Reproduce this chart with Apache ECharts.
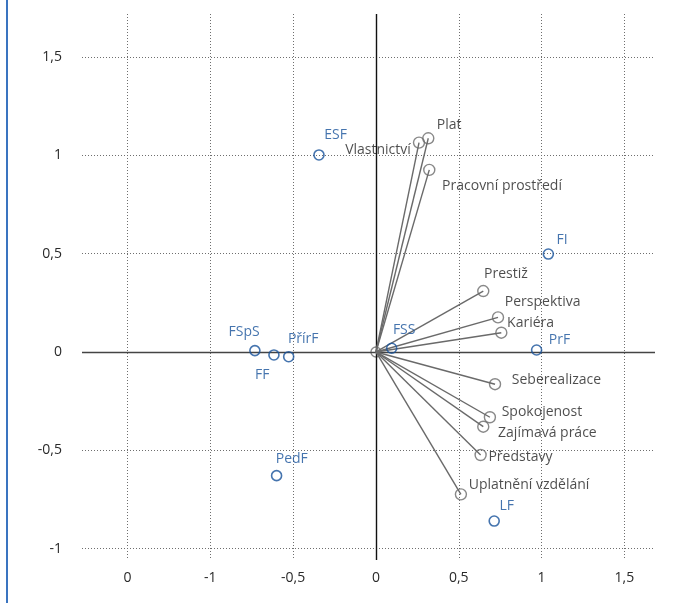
<!DOCTYPE html>
<html>
<head>
<meta charset="utf-8">
<script src="https://cdn.jsdelivr.net/npm/echarts@6/dist/echarts.min.js"></script>
<style>html,body{margin:0;padding:0;background:#fff;}#chart{width:682px;height:603px;}</style>
</head>
<body>
<div id="chart"></div>
<script>
// ---- data ----
const vectorNames = ['Plat','Vlastnictví','Pracovní prostředí','Prestiž','Perspektiva','Kariéra','Seberealizace','Spokojenost','Zajímavá práce','Představy','Uplatnění vzdělání'];
const vectorX = [0.316, 0.260, 0.322, 0.648, 0.737, 0.757, 0.719, 0.688, 0.648, 0.632, 0.513];
const vectorY = [1.087, 1.065, 0.926, 0.310, 0.176, 0.098, -0.164, -0.332, -0.380, -0.524, -0.724];

const facultyNames = ['ESF','FI','FSpS','FF','PřírF','PedF','FSS','PrF','LF'];
const facultyX = [-0.344, 1.041, -0.731, -0.616, -0.527, -0.600, 0.095, 0.970, 0.714];
const facultyY = [1.002, 0.498, 0.007, -0.015, -0.024, -0.629, 0.019, 0.010, -0.860];

const xTickValues = [-1.5, -1, -0.5, 0, 0.5, 1, 1.5];
const xTickLabels = ['0', '-1', '-0,5', '0', '0,5', '1', '1,5'];
const yTickValues = [-1, -0.5, 0, 0.5, 1, 1.5];
const yTickLabels = ['-1', '-0,5', '0', '0,5', '1', '1,5'];

// ---- label placement (style): [dx, dy] from marker centre, text align ----
const vectorLabelOffsets = {
  'Plat': [[22, -12], 'center'],
  'Vlastnictví': [[-7, 9], 'right'],
  'Pracovní prostředí': [[14, 17], 'left'],
  'Prestiž': [[2, -16], 'left'],
  'Perspektiva': [[8, -14], 'left'],
  'Kariéra': [[7, -8], 'left'],
  'Seberealizace': [[18, -3], 'left'],
  'Spokojenost': [[13, -4], 'left'],
  'Zajímavá práce': [[16, 8], 'left'],
  'Představy': [[9, 3], 'left'],
  'Uplatnění vzdělání': [[9, -8], 'left']
};
const facultyLabelOffsets = {
  'ESF': [[6, -19], 'left'],
  'FI': [[9, -13], 'left'],
  'FSpS': [[-10, -18], 'center'],
  'FF': [[-11, 21], 'center'],
  'PřírF': [[0, -17], 'left'],
  'PedF': [[16, -16], 'center'],
  'FSS': [[2, -17], 'left'],
  'PrF': [[13, -9], 'left'],
  'LF': [[6, -14], 'left']
};

const FONT = '"Open Sans", "Noto Sans", sans-serif';
const BLUE = '#17519a';
const GRAY = '#6a6a6a';
const SYM = 10;

function labelFor(o) {
  return { position: [SYM / 2 + o[0][0], SYM / 2 + o[0][1]], align: o[1], verticalAlign: 'middle' };
}
const vectorData = vectorNames.map((n, i) => ({ name: n, value: [vectorX[i], vectorY[i]], label: labelFor(vectorLabelOffsets[n]) }));
const facultyData = facultyNames.map((n, i) => ({ name: n, value: [facultyX[i], facultyY[i]], label: labelFor(facultyLabelOffsets[n]) }));

const chart = echarts.init(document.getElementById('chart'), null, { renderer: 'canvas' });
chart.setOption({
  animation: false,
  backgroundColor: '#fff',
  graphic: [{
    type: 'rect', shape: { x: 6, y: 0, width: 2, height: 603 },
    style: { fill: '#3a74c0' }, silent: true
  }],
  grid: { left: 82, right: 27, top: 14, bottom: 43, containLabel: false },
  xAxis: {
    type: 'value', min: -1.775, max: 1.685,
    axisLine: { show: false },
    axisTick: { show: false, customValues: xTickValues },
    axisLabel: {
      customValues: xTickValues, margin: 11,
      color: '#2a2a2a', fontSize: 14, fontFamily: FONT,
      formatter: v => { const i = xTickValues.findIndex(t => Math.abs(t - v) < 1e-6); return i >= 0 ? xTickLabels[i] : ''; }
    },
    splitLine: { show: true, lineStyle: { type: [1, 2], color: '#6e6e6e', width: 1 } }
  },
  yAxis: {
    type: 'value', min: -1.058, max: 1.719,
    axisLine: { show: false },
    axisTick: { show: false, customValues: yTickValues },
    axisLabel: {
      customValues: yTickValues, margin: 20, padding: [2, 0, 0, 0],
      color: '#2a2a2a', fontSize: 14, fontFamily: FONT,
      formatter: v => { const i = yTickValues.findIndex(t => Math.abs(t - v) < 1e-6); return i >= 0 ? yTickLabels[i] : ''; }
    },
    splitLine: { show: true, lineStyle: { type: [1, 2], color: '#6e6e6e', width: 1 } }
  },
  series: [
    {
      type: 'scatter', name: 'axes', data: [], silent: true,
      markLine: {
        silent: true, symbol: 'none', label: { show: false },
        data: [
          { xAxis: 0, lineStyle: { color: '#111', width: 1.4, type: 'solid' } },
          { yAxis: 0, lineStyle: { color: '#444', width: 1.4, type: 'solid' } }
        ]
      }
    },
    {
      type: 'scatter', name: 'vectors', silent: true,
      data: [[0, 0]],
      symbol: 'circle', symbolSize: SYM,
      itemStyle: { color: '#fff', borderColor: GRAY, borderWidth: 1.3 },
      markLine: {
        silent: true, symbol: 'none', label: { show: false },
        lineStyle: { color: GRAY, width: 1.4, type: 'solid' },
        data: vectorNames.map((n, i) => [{ coord: [0, 0] }, { coord: [vectorX[i], vectorY[i]] }])
      },
      z: 3
    },
    {
      type: 'scatter', name: 'vectorEnds', silent: true,
      data: vectorData,
      symbol: 'circle', symbolSize: SYM + 1,
      itemStyle: { color: 'rgba(255,255,255,0)', borderColor: GRAY, borderWidth: 1.4 },
      label: { show: true, formatter: '{b}', color: '#1f1f1f', fontSize: 14, fontFamily: FONT },
      labelLayout: { hideOverlap: false },
      z: 4
    },
    {
      type: 'scatter', name: 'faculties', silent: true,
      data: facultyData,
      symbol: 'circle', symbolSize: SYM,
      itemStyle: { color: 'rgba(255,255,255,0)', borderColor: BLUE, borderWidth: 1.6 },
      label: { show: true, formatter: '{b}', color: BLUE, fontSize: 14, fontFamily: FONT },
      z: 5
    }
  ]
});
</script>
</body>
</html>
